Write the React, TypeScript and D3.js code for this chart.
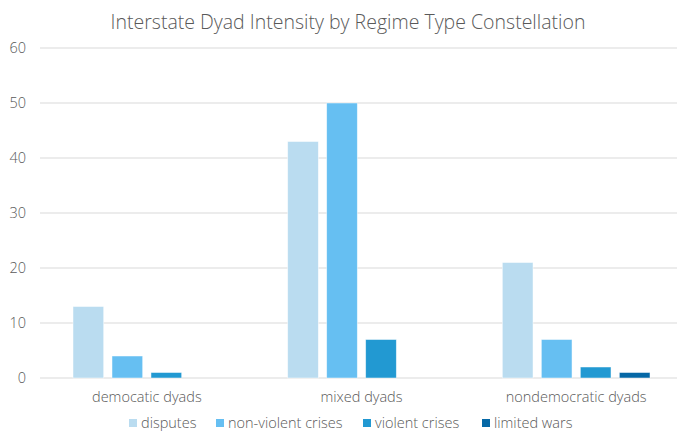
import React from "react";
import * as d3 from "d3";

const categories = ["democatic dyads", "mixed dyads", "nondemocratic dyads"];
const seriesNames = ["disputes", "non-violent crises", "violent crises", "limited wars"];
const disputes = [13, 43, 21];
const nonViolentCrises = [4, 50, 7];
const violentCrises = [1, 7, 2];
const limitedWars = [0, 0, 1];
const yTicks = [0, 10, 20, 30, 40, 50, 60];
const colors = ["#BADCF0", "#66BFF2", "#2299D2", "#0668A6"];

const W = 678, H = 433;
const M = { left: 40, right: 1, top: 48, bottom: 55 };
const FONT = "'Open Sans', 'Noto Sans', sans-serif";

export default function App() {
  const series = [disputes, nonViolentCrises, violentCrises, limitedWars];
  const x0 = d3.scaleBand().domain(categories).range([39.5, 683.5]).paddingInner(0).paddingOuter(0);
  const x1 = d3.scaleBand().domain(seriesNames).range([0, x0.bandwidth()]).paddingInner(0.213).paddingOuter(0.859);
  const y = d3.scaleLinear().domain([0, 60]).range([H - M.bottom, M.top]);
  const legendX = [129, 216, 363, 482];
  return (
    <svg width={W} height={H} style={{ position: "absolute", left: 0, top: 0, background: "#fff" }} fontFamily={FONT}>
      <text x={348} y={29} textAnchor="middle" fontSize={19.5} fontWeight={300} fill="#595959">
        Interstate Dyad Intensity by Regime Type Constellation
      </text>
      {yTicks.map((t) => (
        <g key={t}>
          <line x1={M.left} x2={W - M.right} y1={y(t)} y2={y(t)} stroke="#D9D9D9" strokeWidth={1.2} />
          <text x={26} y={y(t)} dy="0.35em" textAnchor="end" fontSize={14.5} fontWeight={300} fill="#595959">{t}</text>
        </g>
      ))}
      {categories.map((c, i) => (
        <g key={c} transform={`translate(${x0(c)},0)`}>
          {series.map((s, j) =>
            s[i] > 0 ? (
              <rect key={j} x={x1(seriesNames[j])} y={y(s[i])} width={x1.bandwidth()} height={y(0) - y(s[i])}
                fill={colors[j]} stroke="#fff" strokeOpacity={0.6} strokeWidth={0.8} />
            ) : null
          )}
          <text x={x0.bandwidth() / 2} y={397} dy="0.35em" textAnchor="middle" fontSize={14.5} fontWeight={300} fill="#595959">{c}</text>
        </g>
      ))}
      {seriesNames.map((n, j) => (
        <g key={n}>
          <rect x={legendX[j]} y={419} width={8} height={8} fill={colors[j]} />
          <text x={legendX[j] + 12} y={423} dy="0.35em" fontSize={14.5} fontWeight={300} fill="#595959">{n}</text>
        </g>
      ))}
    </svg>
  );
}
